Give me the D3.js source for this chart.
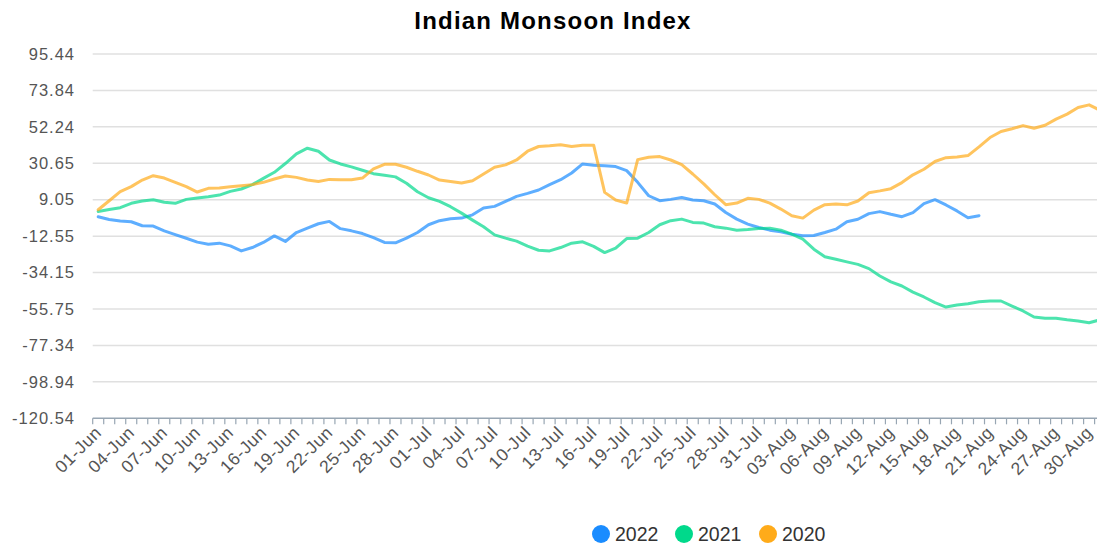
<!DOCTYPE html>
<html>
<head>
<meta charset="utf-8">
<script src="https://cdn.jsdelivr.net/npm/d3@7"></script>
<style>
  html, body { margin: 0; padding: 0; background: #fff; overflow: hidden; }
  svg { display: block; font-family: "Liberation Sans", Arial, sans-serif; }
</style>
</head>
<body>
<svg id="chart"></svg>
<script>
// months of the season and their lengths, used to build the day categories
var months = [['Jun', 30], ['Jul', 31], ['Aug', 31]];
var dates = [];
months.forEach(function (m) {
  for (var d = 1; d <= m[1]; d++) dates.push(String(d).padStart(2, '0') + '-' + m[0]);
});

var yTicks = [95.44, 73.84, 52.24, 30.65, 9.05, -12.55, -34.15, -55.75, -77.34, -98.94, -120.54];

var seriesNames = ['2022', '2021', '2020'];
var colors = ['#1a8cff', '#00d98b', '#ffab1a'];

var idx2022 = [
  -1.05, -2.65, -3.6, -4.0, -6.4, -6.6, -9.4, -11.6, -13.8, -16.1,
  -17.3, -16.7, -18.3, -21.3, -19.3, -16.3, -12.4, -15.7, -10.4, -7.8,
  -5.2, -3.8, -8.1, -9.4, -11.0, -13.4, -16.3, -16.5, -13.75, -10.4,
  -5.8, -3.4, -2.2, -1.85, 0.1, 4.1, 5.1, 8.05, 11.0, 12.8,
  14.8, 18.0, 20.9, 24.9, 30.25, 29.5, 29.25, 28.7, 26.3, 19.35,
  11.4, 8.45, 9.25, 10.4, 8.85, 8.45, 6.5, 1.5, -2.45, -5.4,
  -7.4, -9.0, -10.0, -11.4, -12.35, -12.15, -10.4, -8.4, -4.0, -2.55,
  0.8, 2.0, 0.4, -1.0, 1.4, 6.75, 9.1, 5.95, 2.4, -1.6,
  -0.4
];

var idx2021 = [
  2.1, 3.3, 4.3, 6.9, 8.25, 9.05, 7.5, 6.9, 9.25, 10.0,
  10.8, 11.8, 14.0, 15.4, 18.0, 21.7, 25.3, 30.5, 36.2, 39.6,
  37.8, 32.6, 30.25, 28.5, 26.5, 24.5, 23.5, 22.6, 18.8, 13.8,
  10.2, 8.05, 4.9, 1.1, -3.05, -7.0, -11.8, -13.75, -15.5, -18.5,
  -20.9, -21.3, -19.3, -16.7, -15.9, -18.6, -22.3, -19.7, -13.95, -13.75,
  -10.4, -5.8, -3.4, -2.45, -4.4, -4.8, -7.0, -7.8, -9.0, -8.6,
  -8.0, -7.8, -9.0, -11.4, -14.35, -20.3, -24.8, -26.2, -27.8, -29.3,
  -31.8, -36.2, -39.7, -42.1, -45.7, -48.6, -52.0, -54.6, -53.4, -52.6,
  -51.4, -51.0, -51.0, -54.0, -56.9, -60.5, -61.2, -61.2, -62.1, -62.8,
  -63.9, -62.1
];

var idx2020 = [
  3.1, 8.45, 13.8, 16.8, 20.7, 23.3, 21.9, 19.35, 16.8, 13.6,
  15.8, 16.0, 16.8, 17.4, 18.0, 19.35, 21.3, 23.1, 22.3, 20.7,
  19.9, 21.1, 20.9, 20.9, 21.9, 27.3, 30.05, 30.05, 28.3, 25.9,
  23.7, 20.7, 19.9, 18.95, 20.3, 24.3, 28.3, 29.7, 32.6, 37.8,
  40.6, 41.0, 41.6, 40.6, 41.4, 41.4, 13.4, 8.85, 7.05, 32.8,
  34.2, 34.6, 32.6, 29.85, 24.3, 18.4, 12.0, 6.1, 7.05, 9.85,
  9.25, 7.05, 3.5, -0.5, -1.85, 2.9, 6.1, 6.5, 6.0, 8.3,
  13.2, 14.3, 15.6, 19.2, 23.8, 27.1, 31.7, 34.0, 34.4, 35.2,
  40.4, 45.9, 49.5, 51.1, 53.0, 51.4, 53.2, 56.8, 59.8, 63.7,
  65.3, 62.1
];

var seriesData = [idx2022, idx2021, idx2020];

var W = 1097, H = 544;
var plotLeft = 92.7, bandW = 11.01;
var plotTop = 54, plotBottom = 418.3;

var svg = d3.select('#chart').attr('width', W).attr('height', H);

var x = d3.scaleBand()
  .domain(dates)
  .range([plotLeft, plotLeft + bandW * dates.length])
  .padding(0);

var y = d3.scaleLinear()
  .domain([yTicks[yTicks.length - 1], yTicks[0]])
  .range([plotBottom, plotTop]);

var cx = function (i) { return x(dates[i]) + x.bandwidth() / 2; };

// title
svg.append('text')
  .attr('x', 553)
  .attr('y', 29)
  .attr('text-anchor', 'middle')
  .attr('font-size', '24px')
  .attr('font-weight', 'bold')
  .attr('letter-spacing', '1.2px')
  .attr('fill', '#000')
  .text('Indian Monsoon Index');

// horizontal grid
svg.append('g')
  .selectAll('line')
  .data(yTicks.slice(0, -1))
  .enter().append('line')
  .attr('x1', plotLeft)
  .attr('x2', x.range()[1])
  .attr('y1', d => y(d))
  .attr('y2', d => y(d))
  .attr('stroke', '#e0e0e0')
  .attr('stroke-width', 1.5);

// y axis labels
var yAxis = d3.axisLeft(y)
  .tickValues(yTicks)
  .tickSize(0)
  .tickPadding(17.7)
  .tickFormat(d => d.toFixed(2));

var gy = svg.append('g')
  .attr('transform', `translate(${plotLeft}, 0)`)
  .call(yAxis);
gy.select('.domain').remove();
gy.selectAll('text')
  .attr('font-size', '16.5px')
  .attr('letter-spacing', '1px')
  .attr('font-family', '"Liberation Sans", Arial, sans-serif')
  .attr('fill', '#555');

// x axis: line, a tick at every band boundary, a label every 3 days
var gx = svg.append('g').attr('transform', `translate(0, ${plotBottom})`);

gx.append('line')
  .attr('x1', plotLeft)
  .attr('x2', x.range()[1])
  .attr('stroke', '#98a6b3')
  .attr('stroke-width', 1.5);

gx.selectAll('.tk')
  .data(dates.concat(['end']))
  .enter().append('line')
  .attr('class', 'tk')
  .attr('x1', (d, i) => plotLeft + i * x.bandwidth())
  .attr('x2', (d, i) => plotLeft + i * x.bandwidth())
  .attr('y1', 0)
  .attr('y2', 6)
  .attr('stroke', '#98a6b3')
  .attr('stroke-width', 1.2);

var xAxis = d3.axisBottom(x)
  .tickValues(dates.filter((d, i) => i % 3 === 0))
  .tickSize(0);

var gl = svg.append('g')
  .attr('transform', `translate(0, ${plotBottom})`)
  .call(xAxis);
gl.select('.domain').remove();
gl.selectAll('text')
  .attr('y', 0)
  .attr('dy', '0.35em')
  .attr('transform', 'translate(0, 11) rotate(-45)')
  .style('text-anchor', 'end')
  .attr('font-size', '17.5px')
  .attr('letter-spacing', '0.6px')
  .attr('font-family', '"Liberation Sans", Arial, sans-serif')
  .attr('fill', '#555');

// lines
var line = d3.line()
  .x((d, i) => cx(i))
  .y(d => y(d));

svg.append('g')
  .selectAll('path')
  .data(seriesData)
  .enter().append('path')
  .attr('d', d => line(d))
  .attr('fill', 'none')
  .attr('stroke', (d, i) => colors[i])
  .attr('stroke-opacity', 0.7)
  .attr('stroke-width', 3)
  .attr('stroke-linejoin', 'round')
  .attr('stroke-linecap', 'round');

// legend
var legendX = [601, 684, 768];
var lg = svg.append('g')
  .selectAll('g')
  .data(seriesNames)
  .enter().append('g')
  .attr('transform', (d, i) => `translate(${legendX[i]}, 534)`);

lg.append('circle')
  .attr('r', 9)
  .attr('fill', (d, i) => colors[i]);

lg.append('text')
  .attr('x', 14)
  .attr('dy', '0.35em')
  .attr('font-size', '19.5px')
  .attr('fill', '#333')
  .text(d => d);
</script>
</body>
</html>
